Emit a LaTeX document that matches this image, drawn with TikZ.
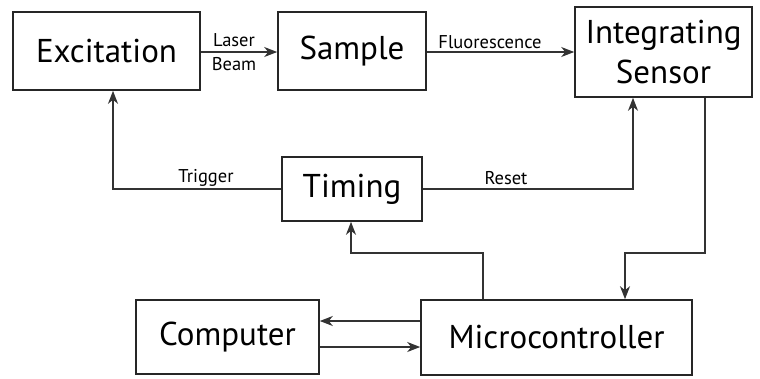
\documentclass[tikz,border=0pt]{standalone}
\usepackage{fontspec}
\setmainfont{PT Sans}
\usetikzlibrary{arrows.meta}
\tikzset{
  blk/.style={draw=black!85, line width=1.6pt, rectangle, inner sep=0pt, align=center, font=\fontsize{33}{34}\selectfont},
  conn/.style={draw=black!80, line width=1.6pt},
  arr/.style={conn, -{Stealth[length=13pt, width=10pt, inset=4pt]}},
  lbl/.style={font=\fontsize{18.5}{19}\selectfont, inner sep=0pt}
}
\begin{document}
\begin{tikzpicture}[x=1pt, y=-1pt]
\useasboundingbox (0,0) rectangle (760,378);
\node[blk, minimum width=187pt, minimum height=78pt] (exc) at (106.5,51) {Excitation};
\node[blk, minimum width=148pt, minimum height=78pt] (smp) at (352,51) {Sample};
\node[blk, minimum width=177pt, minimum height=90pt, font=\fontsize{33}{40}\selectfont] (sen) at (663.5,52) {Integrating\\Sensor};
\node[blk, minimum width=140pt, minimum height=64pt] (tim) at (352,189) {Timing};
\node[blk, minimum width=183pt, minimum height=74pt] (cmp) at (227.5,337) {Computer};
\node[blk, minimum width=271pt, minimum height=75pt] (mcu) at (556.5,337.5) {Microcontroller};
% helper coordinates
\coordinate (ylaser) at (0,52);
\coordinate (trig) at (113,189);
\coordinate (rst) at (633,189);
\coordinate (sdown) at (705,253);
\coordinate (mdown) at (625,253);
\coordinate (mup) at (483,253);
\coordinate (tup) at (351,253);
\coordinate (ya) at (0,321);
\coordinate (yb) at (0,347);
% connectors
\draw[arr] (exc.east |- ylaser) -- (smp.west |- ylaser);
\draw[arr] (smp.east |- ylaser) -- (sen.west |- ylaser);
\draw[arr] (tim.west) -- (trig) -- (trig |- exc.south);
\draw[arr] (tim.east) -- (rst) -- (rst |- sen.south);
\draw[arr] (sdown |- sen.south) -- (sdown) -- (mdown) -- (mdown |- mcu.north);
\draw[arr] (mup |- mcu.north) -- (mup) -- (tup) -- (tup |- tim.south);
\draw[arr] (mcu.west |- ya) -- (cmp.east |- ya);
\draw[arr] (cmp.east |- yb) -- (mcu.west |- yb);
% labels
\node[lbl] (l1) at (234,40) {Laser};
\node[lbl] (l2) at (234,64) {Beam};
\node[lbl] (l3) at (490,42) {Fluorescence};
\node[lbl] (l4) at (206,178) {Trigger};
\node[lbl] (l5) at (506,178) {Reset};
\end{tikzpicture}
\end{document}
